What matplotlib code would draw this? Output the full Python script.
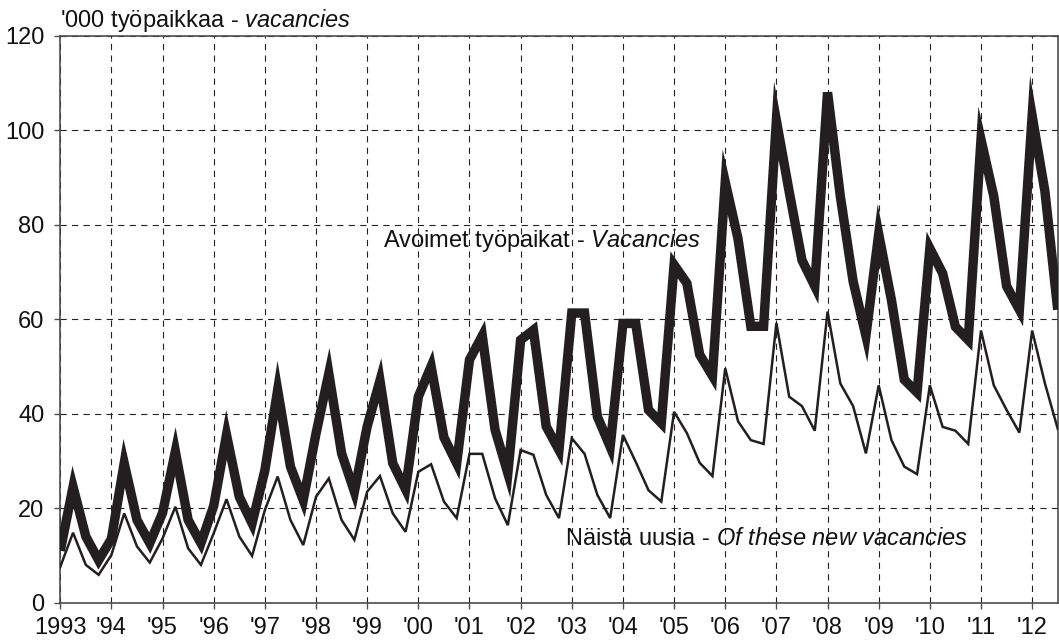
import numpy as np
from matplotlib import pyplot as plt

plt.rcParams['font.family'] = ['Liberation Sans', 'DejaVu Sans']
plt.rcParams['mathtext.fontset'] = 'custom'
plt.rcParams['mathtext.rm'] = 'Liberation Sans'
plt.rcParams['mathtext.it'] = 'Liberation Sans:italic'
plt.rcParams['lines.scale_dashes'] = False

# quarterly data, 1993 Q1 .. 2012 Q3 ('000)
vacancies = [
    11, 24.5, 14, 9,
    13.5, 29.5, 17.5, 12.6,
    19, 32, 17.5, 12.6,
    20.5, 35.5, 22.4, 16.8,
    28, 45, 28.8, 21.7,
    35.8, 48.5, 31.6, 23.5,
    37.3, 47, 29.5, 24,
    43.6, 50, 35, 29.5,
    51.4, 56.5, 36.6, 27.4,
    55.6, 57.7, 37.3, 32.3,
    61.3, 61.3, 39.4, 33,
    59.1, 59.1, 40.8, 38,
    71.5, 67.6, 52.5, 48,
    89, 77, 58.5, 58.5,
    102, 87, 72.5, 67,
    108, 86, 68, 56.5,
    78, 64, 47.2, 44.5,
    75, 69.7, 58.4, 55.6,
    98, 86, 67, 62,
    103, 87, 62,
]
new_vacancies = [
    7.6, 14.8, 8.0, 5.9,
    10.1, 18.9, 11.9, 8.5,
    13.6, 20.3, 11.5, 8.0,
    14.7, 21.9, 14.0, 9.9,
    19.6, 26.7, 17.5, 12.2,
    22.4, 26.3, 17.5, 13.3,
    23.5, 26.8, 18.9, 15.0,
    27.7, 29.3, 21.4, 17.9,
    31.5, 31.5, 22.1, 16.4,
    32.3, 31.3, 22.8, 17.9,
    34.8, 31.5, 22.8, 17.9,
    35.5, 29.8, 23.8, 21.4,
    40.4, 35.9, 29.6, 26.8,
    49.6, 38.4, 34.4, 33.6,
    59.2, 43.6, 41.6, 36.4,
    61.6, 46.4, 41.6, 31.6,
    46, 34.4, 28.8, 27.2,
    46, 37.2, 36.4, 33.6,
    57.6, 46, 40.8, 36,
    57.6, 46.4, 36.8,
]
years = list(range(1993, 2013))
year_labels = ['1993'] + ["'%02d" % (y % 100) for y in years[1:]]
y_ticks = [0, 20, 40, 60, 80, 100, 120]

t = 1993 + 0.25 * np.arange(len(vacancies))
ink = '#231f20'
fs = 17

fig = plt.figure(figsize=(10.59, 6.43), dpi=100)
ax = fig.add_axes([0.0569, 0.0627, 0.9419, 0.8818])

ax.plot(t, vacancies, color=ink, lw=6.8, solid_joinstyle='miter',
        solid_capstyle='butt', zorder=3)
ax.plot(t, new_vacancies, color=ink, lw=1.8, solid_joinstyle='miter', zorder=3)

ax.set_xlim(1993, 2012.5)
ax.set_ylim(0, 120)
ax.set_xticks(years)
ax.set_xticklabels(year_labels)
ax.set_yticks(y_ticks)
ax.tick_params(axis='both', labelsize=fs, direction='out', length=4,
               width=1, color='#4d4d4d', labelcolor='#111111')
ax.tick_params(axis='x', pad=6)
ax.tick_params(axis='y', pad=7.5)
ax.grid(True, color='#222222', lw=0.8, linestyle=(0, (4.5, 3.8)))
ax.set_axisbelow(True)
for s in ax.spines.values():
    s.set_color('#4d4d4d')
    s.set_linewidth(1.2)

ax.text(0, 1.016, "'000 työpaikkaa - $\\it{vacancies}$", transform=ax.transAxes,
        fontsize=fs, va='baseline', ha='left', color='#111111')
ax.text(1999.3, 75.3, "Avoimet työpaikat - $\\it{Vacancies}$",
        fontsize=fs, va='baseline', ha='left', color='#111111', zorder=2)
ax.text(2002.86, 12.2, "Näistä uusia - $\\it{Of\\ these\\ new\\ vacancies}$",
        fontsize=fs, va='baseline', ha='left', color='#111111', zorder=2)

fig.savefig('out.png', dpi=100)
